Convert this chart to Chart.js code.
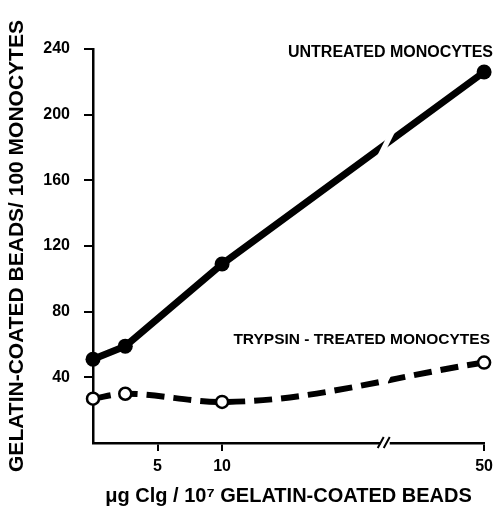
<!DOCTYPE html>
<html>
<head>
	<meta charset="UTF-8">
	<title>Gelatin-coated beads</title>
	<script src="https://cdn.jsdelivr.net/npm/chart.js@4.4.0/dist/chart.umd.min.js"></script>
	<style>
		body { margin:0; padding:0; overflow:hidden; background:#fff; }
		#wrap { width:499px; height:508px; }
	</style>
</head>
<body>
	<div id="wrap"><canvas id="chart" width="499" height="508"></canvas></div>
	<script>
		// doses (ug Clg / 10^7 beads) and bead counts per 100 monocytes
		const doses = [0, 2.5, 10, 50];
		const untreated = [51, 59, 109, 226];
		const trypsin = [27, 30, 25, 49];
		const xTickLabels = [5, 10, 50];
		const yTickLabels = [40, 80, 120, 160, 200, 240];

		// broken x axis: linear up to the break, compressed after it
		const breakAt = 22.6;
		const axisEnd = 30.3;
		function toAxis(x) {
			if (x <= breakAt) return x;
			return breakAt + (x - breakAt) * (axisEnd - breakAt) / (50 - breakAt);
		}

		const font = 'Liberation Sans, Arial, sans-serif';

		const breakPlugin = {
			id: 'axisBreak',
			afterDatasetsDraw(chart) {
				const ctx = chart.ctx;
				const xs = chart.scales.x;
				const xb = xs.getPixelForValue(breakAt);
				const yAxis = chart.chartArea.bottom;
				ctx.save();
				// gaps in both lines
				chart.data.datasets.forEach((ds, i) => {
					const pts = chart.getDatasetMeta(i).data;
					let y = null;
					for (let k = 0; k < pts.length - 1; k++) {
						if (pts[k].x <= xb && pts[k + 1].x >= xb) {
							const t = (xb - pts[k].x) / (pts[k + 1].x - pts[k].x);
							y = pts[k].y + t * (pts[k + 1].y - pts[k].y);
						}
					}
					if (y === null) return;
					if (i === 1) y += 3;
					ctx.fillStyle = '#fff';
					ctx.beginPath();
					ctx.moveTo(xb - 2 + 6, y - 12);
					ctx.lineTo(xb + 4 + 6, y - 12);
					ctx.lineTo(xb + 4 - 6, y + 12);
					ctx.lineTo(xb - 2 - 6, y + 12);
					ctx.closePath();
					ctx.fill();
				});
				// slashes on the x axis
				ctx.fillStyle = '#fff';
				ctx.fillRect(xb - 4, yAxis - 3, 9, 6);
				ctx.strokeStyle = '#000';
				ctx.lineWidth = 2;
				ctx.beginPath();
				ctx.moveTo(xb - 7, yAxis + 5);
				ctx.lineTo(xb - 1, yAxis - 6);
				ctx.moveTo(xb - 1, yAxis + 5);
				ctx.lineTo(xb + 5, yAxis - 6);
				ctx.stroke();
				// series labels
				ctx.fillStyle = '#000';
				ctx.font = 'bold 16px ' + font;
				ctx.textAlign = 'right';
				ctx.textBaseline = 'middle';
				ctx.fillText('UNTREATED MONOCYTES', 493, 53);
				ctx.font = 'bold 15.5px ' + font;
				ctx.fillText('TRYPSIN - TREATED MONOCYTES', 490, 340);
				ctx.restore();
			}
		};

		const ctx = document.getElementById('chart').getContext('2d');
		const myChart = new Chart(ctx, {
			type: 'scatter',
			data: {
				datasets: [{
					label: 'UNTREATED MONOCYTES',
					data: doses.map((d, i) => ({ x: toAxis(d), y: untreated[i] })),
					showLine: true,
					clip: false,
					borderColor: '#000',
					backgroundColor: '#000',
					borderWidth: 7,
					tension: 0,
					pointRadius: 7.5,
					pointBorderWidth: 0,
					pointBackgroundColor: '#000'
				}, {
					label: 'TRYPSIN - TREATED MONOCYTES',
					data: doses.map((d, i) => ({ x: toAxis(d), y: trypsin[i] })),
					showLine: true,
					clip: false,
					borderColor: '#000',
					borderWidth: 6,
					borderDash: [18, 9],
					cubicInterpolationMode: 'monotone',
					pointRadius: 6,
					pointBorderWidth: 2.5,
					pointBorderColor: '#000',
					pointBackgroundColor: '#fff'
				}]
			},
			options: {
				responsive: false,
				animation: false,
				layout: { padding: { top: 49, right: 12, left: 0, bottom: 0 } },
				plugins: { legend: { display: false }, tooltip: { enabled: false } },
				scales: {
					x: {
						type: 'linear',
						min: 0,
						max: axisEnd,
						afterBuildTicks(scale) {
							scale.ticks = xTickLabels.map(v => ({ value: toAxis(v) }));
						},
						afterFit(scale) { scale.height = 65; },
						ticks: {
							color: '#000',
							padding: 6,
							maxRotation: 0,
							font: { family: font, size: 16, weight: 'bold' },
							callback: (v, i) => xTickLabels[i]
						},
						grid: { drawOnChartArea: false, drawTicks: true, tickLength: 8, color: '#000', lineWidth: 2 },
						border: { display: true, color: '#000', width: 2.5 },
						title: {
							display: true,
							text: 'μg Clg / 10⁷ GELATIN-COATED BEADS',
							color: '#000',
							font: { family: font, size: 20, weight: 'bold' },
							padding: { top: 0, bottom: 0 }
						}
					},
					y: {
						min: 0,
						max: 240,
						afterBuildTicks(scale) {
							scale.ticks = yTickLabels.map(v => ({ value: v }));
						},
						afterFit(scale) { scale.width = 93; },
						ticks: {
							color: '#000',
							padding: 14,
							font: { family: font, size: 16, weight: 'bold' }
						},
						grid: { drawOnChartArea: false, drawTicks: true, tickLength: 9, color: '#000', lineWidth: 2 },
						border: { display: true, color: '#000', width: 2.5 },
						title: {
							display: true,
							text: 'GELATIN-COATED BEADS/ 100 MONOCYTES',
							color: '#000',
							font: { family: font, size: 21, weight: 'bold' },
							padding: { top: 5, bottom: 0 }
						}
					}
				}
			},
			plugins: [breakPlugin]
		});
	</script>
</body>
</html>
